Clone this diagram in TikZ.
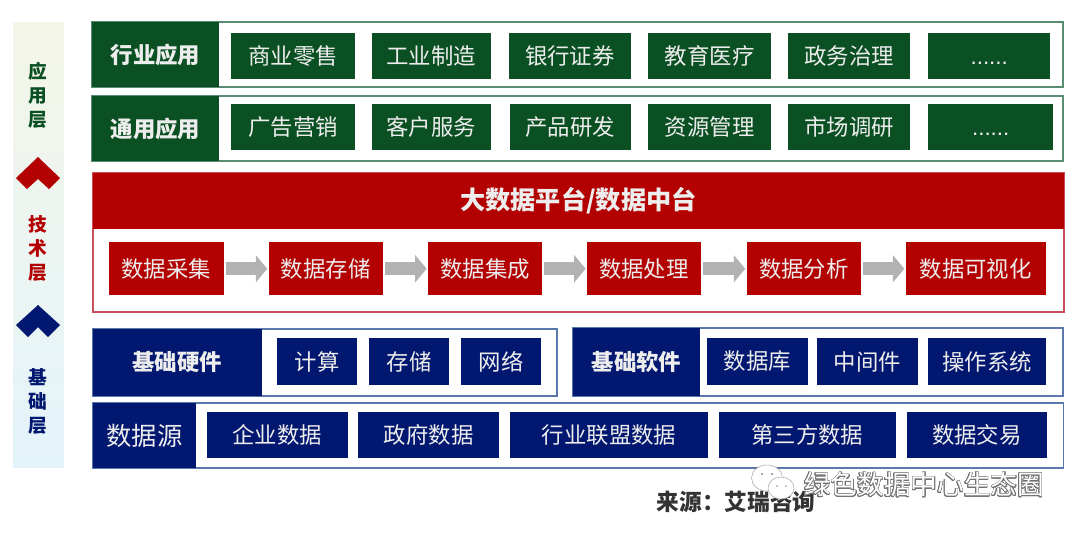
\documentclass[tikz,border=0pt]{standalone}
\usepackage{fontspec}
\setmainfont{Noto Sans CJK SC}
\newfontfamily\dotsfont{Liberation Sans}
\usepackage[copies]{contour}
\contournumber{24}
\contourlength{0.35pt}
\usetikzlibrary{arrows.meta}

\definecolor{dkgreen}{RGB}{11,80,35}
\definecolor{dkred}{RGB}{179,0,0}
\definecolor{dkblue}{RGB}{2,24,112}
\definecolor{greenline}{RGB}{88,140,115}
\definecolor{redline}{RGB}{200,80,90}
\definecolor{blueline}{RGB}{90,120,170}

\tikzset{every picture/.style={line width=0.75pt}}
\tikzset{
  boxtext/.style={inner sep=0pt,outer sep=0pt,text=white!93!black,font=\fontsize{16.8}{20}\selectfont},
  headtext/.style={boxtext,font=\fontsize{16.8}{20}\selectfont\bfseries},
  greenbox/.style={boxtext,fill=dkgreen,minimum height=34.5pt},
  greenhead/.style={headtext,fill=dkgreen,minimum width=95.25pt,minimum height=48.75pt},
  redbox/.style={boxtext,fill=dkred,minimum height=40.1pt},
  bluebox/.style={boxtext,fill=dkblue,minimum height=35pt},
  bluehead/.style={headtext,fill=dkblue},
  flowarrow/.style={draw={rgb, 255:red, 178; green, 178; blue, 178},line width=9.75pt,shorten <=1.5pt,shorten >=1pt,-{Triangle[length=8.6pt,width=20pt]}},
  layertext/.style={inner sep=0pt,align=center,font=\fontsize{14}{18}\selectfont\bfseries},
}

\begin{document}
\begin{tikzpicture}[x=0.75pt,y=0.75pt,yscale=-1,xscale=1]
    \useasboundingbox (0,0) rectangle (1080,533);

    %Shape: Side strip
    \shade [top color={rgb, 255:red, 244; green, 246; blue, 232},bottom color={rgb, 255:red, 228; green, 244; blue, 251}] (13,22) rectangle (64,467);
    \draw [fill=dkred,draw=none] (38,157) -- (60,178) -- (49,189) -- (38,179) -- (27,189) -- (16,178) -- cycle ;
    \draw [fill=dkblue,draw=none] (38,305) -- (60,325) -- (48,337) -- (38,327) -- (28,337) -- (16,325) -- cycle ;

    %Shape: Frames
    \draw [draw=greenline,line width=1.2pt] (92,22) rectangle (1062.7,87);
    \draw [draw=greenline,line width=1.2pt] (92,96) rectangle (1062.7,161);
    \draw [draw=redline,line width=1.2pt] (93,173) rectangle (1064,312);
    \draw [draw=blueline,line width=1.2pt] (93,329) rectangle (557,395.7);
    \draw [draw=blueline,line width=1.2pt] (573,328) rectangle (1063,395.7);
    \draw [draw=blueline,line width=1.2pt] (93,403) rectangle (1063.5,468);

    % Text Node
    \draw (38,95.5) node [layertext,text=dkgreen] (layerapp) {应\\用\\层};
    \draw (38,248.5) node [layertext,text=dkred] (layertech) {技\\术\\层};
    \draw (38,402) node [layertext,text=dkblue] (layerbase) {基\\础\\层};

    % Green rows
    \draw (155.5,54.5) node [greenhead] (industry) {行业应用};
    \draw (293,56) node [greenbox,minimum width=92.5pt] (retail) {商业零售};
    \draw (431.35,56) node [greenbox,minimum width=89pt] (manufact) {工业制造};
    \draw (569.8,56) node [greenbox,minimum width=91.2pt] (bank) {银行证券};
    \draw (709.6,56) node [greenbox,minimum width=91.7pt] (education) {教育医疗};
    \draw (849,56) node [greenbox,minimum width=91.5pt] (government) {政务治理};
    \draw (989.2,56) node [greenbox,minimum width=91.2pt] (moreindustry) {\vphantom{商}\dotsfont ......};

    \draw (155.5,128.5) node [greenhead] (general) {通用应用};
    \draw (293,126.75) node [greenbox,minimum width=92.5pt] (advert) {广告营销};
    \draw (431.35,126.75) node [greenbox,minimum width=89pt] (service) {客户服务};
    \draw (570.3,126.75) node [greenbox,minimum width=90.5pt] (product) {产品研发};
    \draw (709.6,126.75) node [greenbox,minimum width=91.7pt] (resource) {资源管理};
    \draw (849,126.75) node [greenbox,minimum width=91.5pt] (market) {市场调研};
    \draw (990.7,126.75) node [greenbox,minimum width=93.5pt] (moregeneral) {\vphantom{商}\dotsfont ......};

    % Red platform
    \draw (578.5,201) node [headtext,fill=dkred,font=\fontsize{18.9}{22}\selectfont\bfseries,minimum width=728.25pt,minimum height=42pt] (platform) {大数据平台/数据中台};
    \draw (166.25,268.75) node [redbox,minimum width=85.9pt] (collect) {数据采集};
    \draw (325.6,268.75) node [redbox,minimum width=85.5pt] (store) {数据存储};
    \draw (485.2,268.75) node [redbox,minimum width=85.8pt] (integrate) {数据集成};
    \draw (643.9,268.75) node [redbox,minimum width=85.35pt] (process) {数据处理};
    \draw (803.8,268.75) node [redbox,minimum width=85.8pt] (analyse) {数据分析};
    \draw (975.6,268.75) node [redbox,minimum width=104.85pt] (visual) {数据可视化};

    \draw [flowarrow] (collect) -- (store);
    \draw [flowarrow] (store) -- (integrate);
    \draw [flowarrow] (integrate) -- (process);
    \draw [flowarrow] (process) -- (analyse);
    \draw [flowarrow] (analyse) -- (visual);

    % Blue rows
    \draw (177.35,362.35) node [bluehead,minimum width=126.5pt,minimum height=50pt] (hardware) {基础硬件};
    \draw (317.1,361.5) node [bluebox,minimum width=59.85pt] (compute) {计算};
    \draw (409.1,361.5) node [bluebox,minimum width=60.45pt] (storage) {存储};
    \draw (501.2,361.5) node [bluebox,minimum width=59.7pt] (network) {网络};

    \draw (636.5,361.85) node [bluehead,minimum width=95.25pt,minimum height=50.8pt] (software) {基础软件};
    \draw (757.3,361.5) node [bluebox,minimum width=75.45pt] (database) {数据库};
    \draw (867.5,361.5) node [bluebox,minimum width=75.75pt] (middleware) {中间件};
    \draw (987.15,361.5) node [bluebox,minimum width=88.1pt] (system) {操作系统};

    \draw (144.65,435.5) node [boxtext,fill=dkblue,font=\fontsize{19}{23}\selectfont,minimum width=77.5pt,minimum height=48.75pt] (datasource) {数据源};
    \draw (277.2,435) node [bluebox,minimum width=105.9pt] (enterprise) {企业数据};
    \draw (428.65,435) node [bluebox,minimum width=106pt] (govdata) {政府数据};
    \draw (609.15,435) node [bluebox,minimum width=148.3pt] (alliance) {行业联盟数据};
    \draw (807.35,435) node [bluebox,minimum width=132.5pt] (thirdparty) {第三方数据};
    \draw (976.85,435) node [bluebox,minimum width=105.2pt] (trade) {数据交易};

    % Text Node
    \draw (736,501.5) node [inner sep=0pt,text=black!80,font=\fontsize{17}{20}\selectfont\bfseries] (origin) {来源：艾瑞咨询};

    %Shape: Chat bubbles
    \draw [draw=black!35,fill=white,line width=0.4pt] (767,478) ellipse (15.5 and 13);
    \draw [draw=black!35,fill=white,line width=0.4pt] (781,488) ellipse (13 and 11);
    \fill [black!45] (762,474) circle (1.1) (772,474) circle (1.1) (777,486) circle (0.9) (786,486) circle (0.9);

    % Text Node
    \draw (924,485) node [inner sep=0pt,font=\fontsize{20}{24}\selectfont] (watermark) {\contour{black!55}{\textcolor{white}{绿色数据中心生态圈}}};
\end{tikzpicture}
\end{document}
